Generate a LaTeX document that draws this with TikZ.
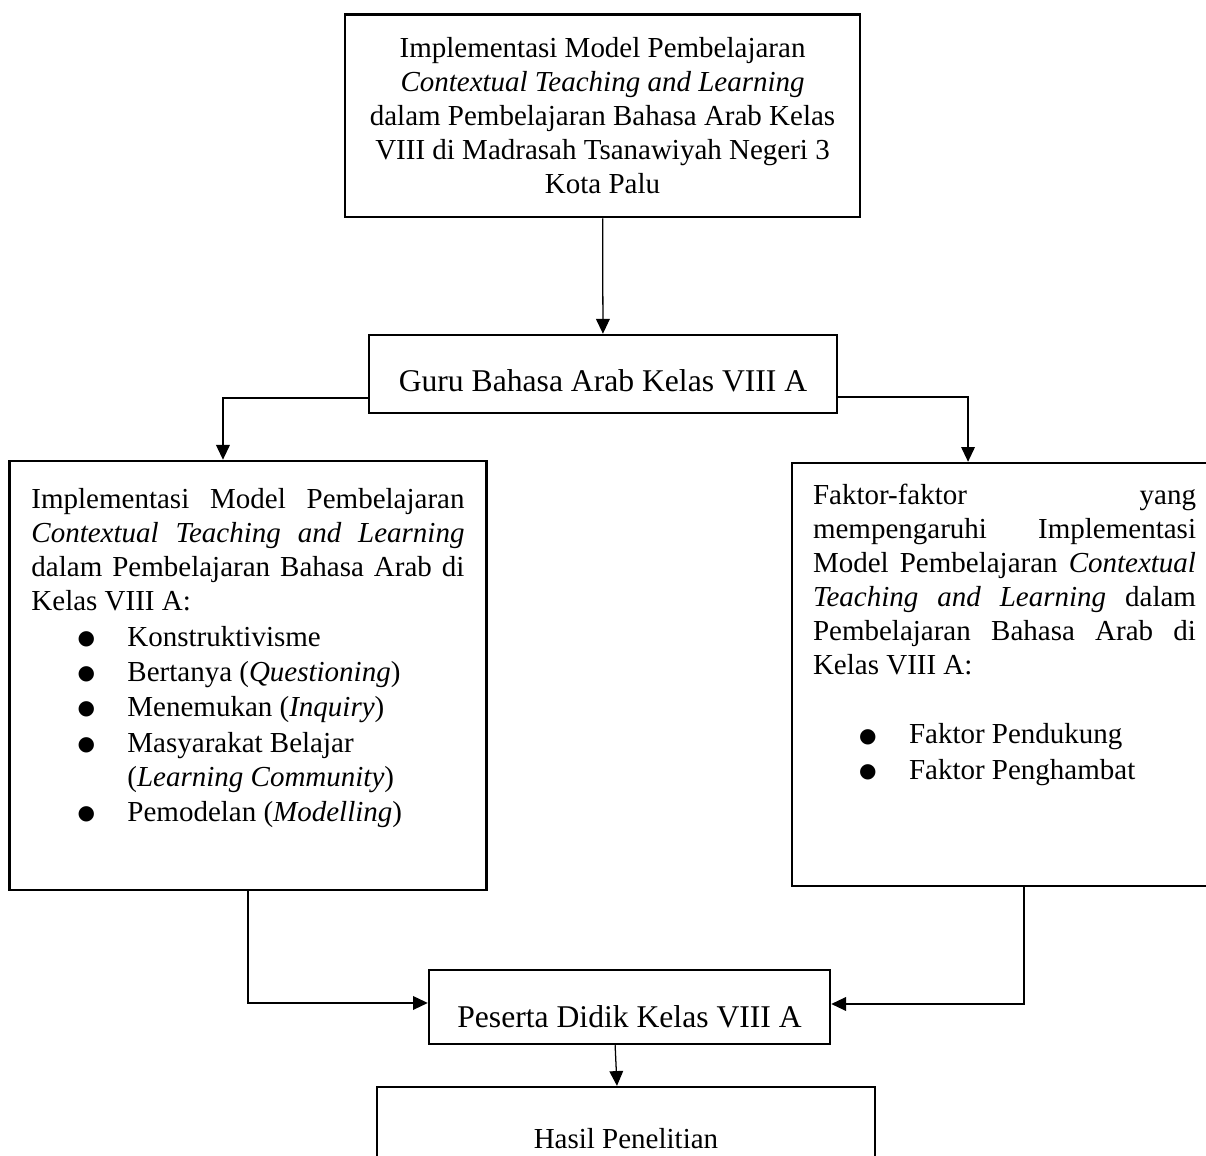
\documentclass[tikz,border=0pt]{standalone}
\usepackage{fontspec}
\setmainfont{Liberation Serif}
\newfontfamily\simbol{DejaVu Sans}
\usetikzlibrary{arrows.meta,positioning,calc}

\newcommand{\teksbiasa}{\fontsize{13.75pt}{16.1pt}\selectfont}
\newcommand{\teksbesar}{\fontsize{15pt}{18pt}\selectfont}
\newcommand{\titik}{\raisebox{0.9pt}{\simbol\fontsize{9.5pt}{9.5pt}\selectfont ●}}
\newcommand{\butir}[1]{\par\vskip 0.7pt\noindent\hangindent=1.6cm\hangafter=1\hbox to 1.6cm{\hspace{0.77cm}\titik\hfil}#1\par}

\begin{document}
\begin{tikzpicture}[
    kotak/.style={rectangle, draw, line width=1.2pt, font=\teksbiasa},
    judul/.style={kotak, font=\teksbesar, inner sep=0pt, text height=0.95cm},
    isi/.style={kotak, inner ysep=0pt, align=justify},
    panah/.style={-{Triangle[length=7pt,width=6.5pt]}, line width=0.6pt}
]
\useasboundingbox (0,0) rectangle (20.1,-19.25);
\clip (0,0) rectangle (20.1,-19.25);

% Research title
\node[kotak, align=center, minimum width=8.583cm, minimum height=3.375cm] (CTL) at (10.042,-1.929)
  {Implementasi Model Pembelajaran\\ \textit{Contextual Teaching and Learning}\\ dalam Pembelajaran Bahasa Arab Kelas\\ VIII di Madrasah Tsanawiyah Negeri 3\\ Kota Palu};

% Teacher
\node[judul, minimum width=7.8cm, text depth=0.35cm] (GURU) at (10.05,-6.233) {Guru Bahasa Arab Kelas VIII A};

% Implementation steps
\node[isi, text width=7.217cm, inner xsep=0.367cm] (KOMP) at (4.133,-11.258)
  {\vbox to 7.15cm{\vskip 0.4cm
   \leavevmode\strut Implementasi Model Pembelajaran\linebreak
   \textit{Contextual Teaching and Learning}\linebreak
   dalam Pembelajaran Bahasa Arab di\linebreak
   Kelas VIII A:
   \butir{Konstruktivisme}
   \butir{Bertanya (\textit{Questioning})}
   \butir{Menemukan (\textit{Inquiry})}
   \butir{Masyarakat Belajar\newline(\textit{Learning Community})}
   \butir{Pemodelan (\textit{Modelling})}
   \vfil}};

% Influencing factors
\node[isi, text width=6.383cm, inner xsep=0.35cm] (FAK) at (16.742,-11.242)
  {\vbox to 7.05cm{\vskip 0.3cm
   \leavevmode\strut Faktor-faktor yang\linebreak
   mempengaruhi Implementasi\linebreak
   Model Pembelajaran \textit{Contextual}\linebreak
   \textit{Teaching and Learning} dalam\linebreak
   Pembelajaran Bahasa Arab di\linebreak
   Kelas VIII A:\par
   \vskip\baselineskip
   \butir{Faktor Pendukung}
   \butir{Faktor Penghambat}
   \vfil}};

% Students and result
\node[judul, minimum width=6.683cm, text depth=0.283cm] (PD) at (10.492,-16.783) {Peserta Didik Kelas VIII A};
\node[kotak, inner sep=0pt, minimum width=8.3cm, text height=1.03cm, text depth=0.95cm] (HP) at (10.433,-19.108) {Hasil Penelitian};

% Arrows
\draw[panah] (CTL) -- (GURU);
\draw[panah] ([yshift=-0.4cm]GURU.west) -| ([xshift=-0.417cm]KOMP.north);
\draw[panah] ([yshift=-0.383cm]GURU.east) -| ([xshift=-0.608cm]FAK.north);
\draw[panah] (KOMP.south) |- ([yshift=0.067cm]PD.west);
\draw[panah] ([xshift=0.325cm]FAK.south) |- ([yshift=0.05cm]PD.east);
\draw[panah] ([xshift=-0.24cm]PD.south) -- ([xshift=-0.15cm]HP.north);
\end{tikzpicture}
\end{document}
